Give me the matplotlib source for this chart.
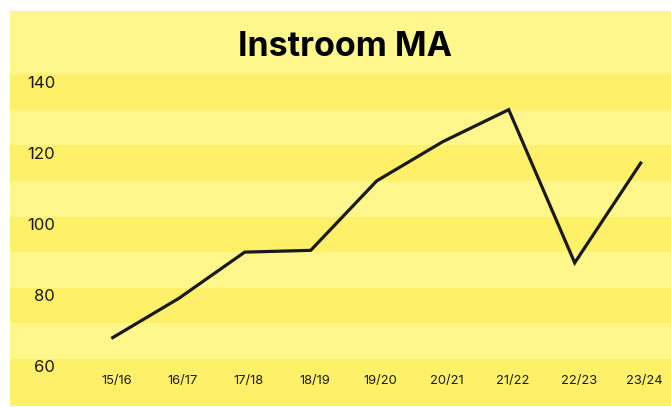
import matplotlib
matplotlib.use("Agg")
import matplotlib.pyplot as plt
from matplotlib.transforms import ScaledTranslation

# data
seasons = ["15/16", "16/17", "17/18", "18/19", "19/20", "20/21", "21/22", "22/23", "23/24"]
instroom = [66, 77, 90, 90.5, 110, 121, 130, 87, 115]
yticks = [60, 80, 100, 120, 140]

light = "#fff78b"
dark = "#fff06a"
ink = "#1a1a1a"

plt.rcParams["font.family"] = ["Inter", "DejaVu Sans"]

fig = plt.figure(figsize=(6.71, 4.07), dpi=100, facecolor="white")
ax = fig.add_axes([10 / 671, 1 / 407, 661 / 671, 395 / 407])
ax.set_facecolor(light)

xmin, xmax = -1.556, 8.459
ymin, ymax = 46.8, 157.7
ax.set_xlim(xmin, xmax)
ax.set_ylim(ymin, ymax)

# alternating bands, darker band just below each tick value
for v in yticks:
    ax.axhspan(v - 10, v, color=dark, lw=0, zorder=0)
ax.axhspan(ymin, 50, color=dark, lw=0, zorder=0)

x = list(range(len(seasons)))
ax.plot(x, instroom, color=ink, lw=2.3, solid_joinstyle="miter", zorder=3)

# y labels, sit a bit under the band edge
shift = ScaledTranslation(0, -9 / 100, fig.dpi_scale_trans)
for v in yticks:
    ax.text(xmin + 45 / 66, v, str(v), ha="right", va="center", fontsize=12,
            color=ink, transform=ax.transData + shift)

for i, s in enumerate(seasons):
    ax.text(i + 0.06, 53.8, s, ha="center", va="center", fontsize=9.3, color=ink)

ax.text(0.507, 0.91, "Instroom MA", transform=ax.transAxes, ha="center",
        va="center", fontsize=24.5, fontweight="bold", color="black")

ax.set_xticks([])
ax.set_yticks([])
for sp in ax.spines.values():
    sp.set_visible(False)

fig.savefig("out.png", dpi=100, facecolor="white")
